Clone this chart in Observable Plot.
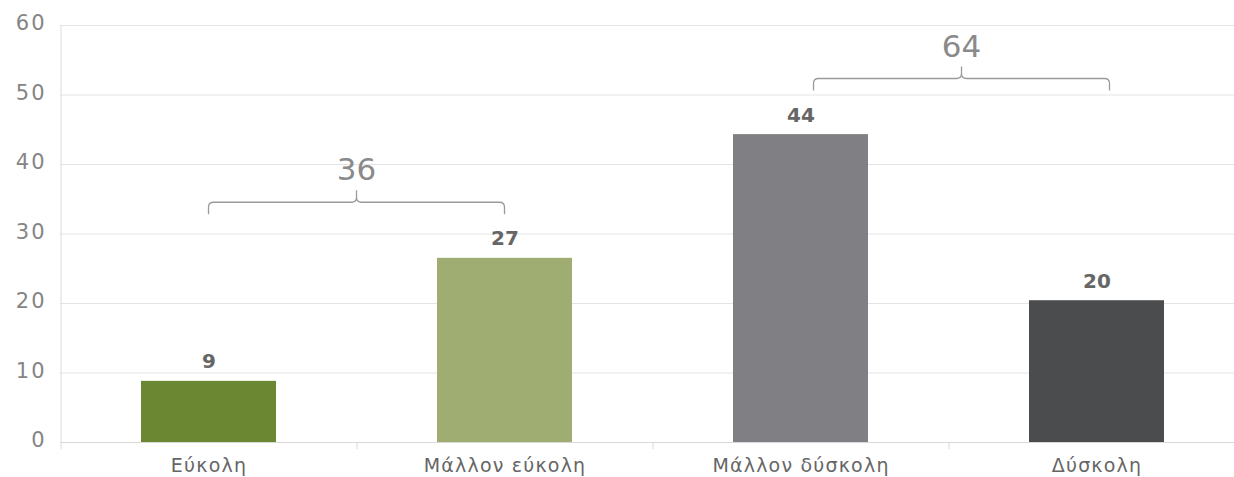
<!DOCTYPE html>
<html><head><meta charset="utf-8">
<script src="https://cdn.jsdelivr.net/npm/d3@7"></script>
<script src="https://cdn.jsdelivr.net/npm/@observablehq/plot@0.6"></script>
<style>
html,body{margin:0;padding:0;background:#fff}
g[aria-label="x-axis tick label"] text{letter-spacing:1.2px}
g[aria-label="y-axis tick label"] text{letter-spacing:2px}
</style>
</head><body><div id="chart"></div>
<script>
const categories = ["Εύκολη", "Μάλλον εύκολη", "Μάλλον δύσκολη", "Δύσκολη"];
const values = [8.8, 26.5, 44.3, 20.4];
const valueLabels = [9, 27, 44, 20];
const barColors = ["#6b8732", "#a0ad72", "#808084", "#4b4c4e"];
const yTicks = [0, 10, 20, 30, 40, 50, 60];
const bracketPairs = [["Εύκολη", "Μάλλον εύκολη"], ["Μάλλον δύσκολη", "Δύσκολη"]];
const bracketTotals = [36, 64];

const data = categories.map((c, i) => ({category: c, value: values[i], label: valueLabels[i], color: barColors[i]}));
const font = "'DejaVu Sans', sans-serif";
const bracketShift = [0, 13];

function bracketMark(index, scales) {
  const x = scales.x, y = scales.y;
  const bw = x.bandwidth ? x.bandwidth() / 2 : 0;
  const g = d3.create("svg:g");
  bracketPairs.forEach((pair, i) => {
    const level = d3.max(pair, c => values[categories.indexOf(c)]) + 8;
    const xa = x(pair[0]) + bw + bracketShift[i];
    const xb = x(pair[1]) + bw + bracketShift[i];
    const xm = (xa + xb) / 2;
    const yl = y(level);
    const r = 5, h = 12;
    const p = `M${xa},${yl + h} L${xa},${yl + r} Q${xa},${yl} ${xa + r},${yl} L${xm - r},${yl} Q${xm},${yl} ${xm},${yl - r} L${xm},${yl - h}` +
      ` M${xm},${yl - r} Q${xm},${yl} ${xm + r},${yl} L${xb - r},${yl} Q${xb},${yl} ${xb},${yl + r} L${xb},${yl + h}`;
    g.append("path").attr("d", p).attr("fill", "none").attr("stroke", "#9a9a9a").attr("stroke-width", 1.3);
    g.append("text").attr("x", xm).attr("y", yl - 22).attr("text-anchor", "middle")
      .attr("font-size", 31).attr("fill", "#8a8a8a").attr("font-family", font).text(bracketTotals[i]);
  });
  return g.node();
}

const chart = Plot.plot({
  width: 1234, height: 477,
  marginLeft: 60, marginRight: -10, marginTop: 25, marginBottom: 35,
  style: {fontFamily: font, background: "#fff"},
  x: {domain: categories, paddingInner: 0.544, paddingOuter: 0.272, label: null},
  y: {domain: [0, 60], label: null},
  color: {type: "identity"},
  marks: [
    Plot.gridY(yTicks, {stroke: "#e4e4e4", strokeOpacity: 1}),
    Plot.ruleY([0], {stroke: "#d8d8d8"}),
    Plot.ruleX([categories[0]], {x: d => d, dx: -148, insetBottom: -7, stroke: "#dcdcdc"}),
    Plot.ruleX(categories.slice(1), {x: d => d, dx: -148, y1: 0, y2: 0, insetBottom: -7, stroke: "#d8d8d8"}),
    Plot.barY(data, {x: "category", y: "value", fill: d => d.color}),
    Plot.text(data, {x: "category", y: "value", text: "label", dy: -13, lineAnchor: "bottom", fontSize: 20, fontWeight: 700, fill: "#666"}),
    Plot.axisY(yTicks, {tickSize: 0, tickPadding: 14, dy: -2, fontSize: 21, fill: "#858585"}),
    Plot.axisX({tickSize: 0, tickPadding: 16, fontSize: 19, fill: "#666"}),
    bracketMark
  ]
});
document.getElementById("chart").appendChild(chart);
</script>
</body></html>
